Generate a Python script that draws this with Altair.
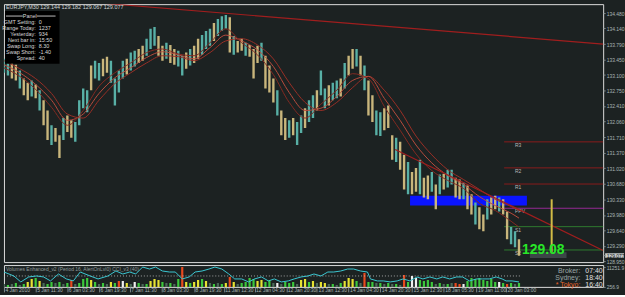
import altair as alt
import pandas as pd

BG = "#1c2222"
FRAME = "#7f8b8b"
AXIS_TXT = "#a9b5b5"
FONT = "Liberation Sans"
W = 604
H_MAIN = 260
H_VOL = 22

# ---------------- data ----------------
bar_idx = list(range(0, 521, 4))
bar_high = [133.46, 133.42, 133.37, 133.33, 133.20, 133.02, 132.93, 132.98, 132.89, 132.76,
            132.54, 132.31, 131.98, 131.92, 131.76, 132.14, 132.20, 132.09, 132.05, 132.54,
            132.80, 132.76, 133.31, 133.42, 133.37, 133.46, 133.51, 133.42, 133.02, 133.20,
            133.42, 133.46, 133.60, 133.64, 133.68, 133.75, 133.91, 134.13, 134.17, 133.97,
            133.75, 133.82, 133.77, 133.68, 133.64, 133.53, 133.60, 133.68, 133.75, 133.91,
            133.99, 134.08, 134.13, 134.26, 134.35, 134.41, 134.44, 134.39, 133.97, 133.86,
            133.91, 133.82, 133.77, 133.68, 133.75, 133.82, 133.53, 133.31, 133.02, 132.76,
            132.31, 132.14, 132.09, 132.14, 132.05, 132.20, 132.36, 132.54, 132.65, 132.76,
            133.20, 132.80, 132.87, 132.93, 132.98, 133.02, 133.37, 133.53, 133.68, 133.68,
            133.53, 133.31, 132.98, 132.65, 132.31, 132.27, 132.36, 132.42, 131.76, 131.70,
            131.61, 131.32, 131.16, 130.94, 131.03, 131.21, 130.81, 130.86, 130.94, 130.66,
            130.88, 130.90, 130.99, 130.99, 130.81, 130.77, 130.70, 130.64, 130.44, 130.26,
            130.15, 129.99, 130.33, 130.37, 130.41, 130.37, 130.33, 130.06, 129.71, 129.62,
            129.44]
bar_low = [133.15, 133.09, 133.02, 132.98, 132.80, 132.65, 132.54, 132.62, 132.58, 132.31,
           131.98, 131.65, 131.54, 131.61, 131.25, 131.65, 131.83, 131.70, 131.61, 131.98,
           132.36, 132.27, 132.76, 133.02, 132.98, 133.07, 133.15, 132.93, 132.42, 132.71,
           133.02, 133.11, 133.20, 133.29, 133.37, 133.42, 133.53, 133.68, 133.75, 133.53,
           133.42, 133.46, 133.37, 133.33, 133.29, 133.09, 133.24, 133.31, 133.37, 133.46,
           133.55, 133.68, 133.75, 133.86, 133.97, 134.08, 134.13, 133.60, 133.55, 133.60,
           133.64, 133.53, 133.51, 133.02, 133.37, 133.42, 132.80, 132.71, 132.49, 132.20,
           131.76, 131.65, 131.70, 131.76, 131.54, 131.81, 131.92, 132.05, 132.14, 132.31,
           132.65, 132.36, 132.42, 132.54, 132.58, 132.62, 132.80, 133.09, 133.24, 133.29,
           133.09, 132.76, 132.20, 132.05, 131.76, 131.74, 131.87, 131.92, 131.21, 131.16,
           130.99, 130.55, 130.44, 130.44, 130.50, 130.44, 130.37, 130.33, 130.50, 130.11,
           130.44, 130.55, 130.59, 130.66, 130.37, 130.33, 130.33, 130.11, 129.99, 129.77,
           129.66, 129.62, 129.88, 129.99, 130.11, 130.06, 129.99, 129.44, 129.33, 129.26,
           129.07]
bar_kind = list("uudduddudu" "dduddudduu" "uuduudduuu" "uduudduuud" "dudduududd"
                "uuuduuudud" "dudddudddu" "dduduuduud" "uuduududdu" "dudduudddu"
                "ddudduddud" "uduudduddu" "dduddudduu" "d")

ma_idx = list(range(0, 513, 16)) + [520]
ma_slow = [133.42, 133.24, 133.02, 132.69, 132.23, 132.14, 132.54, 132.91, 133.15, 133.37,
           133.53, 133.51, 133.42, 133.60, 133.86, 133.91, 133.77, 133.46, 132.93, 132.49,
           132.31, 132.49, 132.82, 133.07, 132.76, 132.31, 131.74, 131.32, 130.99, 130.77,
           130.55, 130.33, 130.17, 130.08]
ma_mid = [133.33, 133.15, 132.89, 132.54, 132.09, 132.23, 132.69, 133.04, 133.26, 133.49,
          133.62, 133.55, 133.46, 133.71, 133.99, 133.86, 133.66, 133.29, 132.71, 132.31,
          132.36, 132.62, 132.98, 133.07, 132.58, 132.09, 131.54, 131.14, 130.86, 130.66,
          130.39, 130.19, 130.02, 129.91]
ma_fast = [133.26, 133.07, 132.78, 132.38, 131.98, 132.31, 132.85, 133.15, 133.37, 133.60,
           133.68, 133.57, 133.53, 133.82, 134.13, 133.82, 133.55, 133.11, 132.49, 132.14,
           132.45, 132.76, 133.13, 133.02, 132.40, 131.87, 131.34, 130.97, 130.75, 130.57,
           130.24, 130.08, 129.84, 129.71]

trend_name = ["T1", "T1", "T2", "T2"]
trend_idx = [0, 605, 395, 605]
trend_price = [134.88, 133.79, 131.44, 129.19]

pivot_name = ["R3", "R2", "R1", "PPV", "S1", "S2"]
pivot_price = [131.61, 131.03, 130.67, 130.13, 129.72, 129.20]
pivot_span = [505, 605]
pivot_label_idx = 516

zone_idx = [410, 528]
zone_price = [130.41, 130.19]

signal_idx = 553
signal_price = [130.33, 129.04]

box_idx = [531, 568]
box_price = [129.15, 129.02]

last_price = 129.077
big_label = "129.08"
big_label_idx = 566
big_label_price = 129.12

price_ticks = [134.48, 134.14, 133.79, 133.45, 133.10, 132.75, 132.41, 132.06, 131.71,
               131.37, 131.02, 130.68, 130.33, 129.98, 129.64, 129.29, 128.95, 129.077]

title_text = "EURJPY,M30  129.144 129.182 129.067 129.077"
panel_labels = ["GMT Setting:", "Range Today:", "Yesterday:", "Next bar in:",
                "Swap Long:", "Swap Short:", "Spread:"]
panel_values = ["0", "1237", "934", "15:50", "8.30", "-1.40", "40"]

time_idx = [0, 32, 64, 96, 127, 159, 192, 222, 253, 285, 316, 348, 380, 412, 444, 477, 507]
time_lbl = ["4 Jan 2010", "5 Jan 11:30", "6 Jan 03:30", "6 Jan 19:30", "7 Jan 11:30",
            "8 Jan 03:30", "8 Jan 19:30", "11 Jan 12:30", "12 Jan 04:30", "12 Jan 20:30",
            "13 Jan 12:30", "14 Jan 04:30", "14 Jan 20:30", "15 Jan 12:30", "18 Jan 05:30",
            "19 Jan 11:00", "20 Jan 03:00"]

vol_idx = list(range(0, 521, 4))
vol_val = [1910, 1360, 1910, 2460, 1360, 1910, 3010, 4665, 5215, 3560,
           2460, 1910, 3010, 2460, 3010, 1910, 2460, 4110, 1910, 2460,
           4665, 5215, 4110, 3010, 1910, 2460, 1910, 3010, 2460, 3560,
           3560, 2460, 1910, 3010, 2460, 1910, 1910, 3560, 4665, 4110,
           3010, 2460, 2460, 1910, 4665, 11280, 3010, 2460, 3010, 4110,
           4665, 3560, 2460, 1910, 2460, 1910, 2460, 5770, 3010, 1910,
           2460, 3010, 5215, 4665, 3560, 4110, 3010, 4110, 2460, 2460,
           1910, 3010, 2460, 3010, 1910, 4110, 4665, 3010, 3560, 2460,
           3010, 2460, 1910, 1910, 1360, 2460, 3560, 5215, 4665, 3560,
           2460, 7970, 3010, 3010, 2460, 2460, 1910, 2460, 1910, 1910,
           1360, 6870, 3010, 6320, 5215, 4110, 3560, 4110, 3010, 1910,
           2460, 1910, 1910, 2460, 2460, 1910, 1910, 3560, 5215, 4665,
           5215, 4110, 3560, 4665, 3010, 3010, 2460, 1910, 2460, 1910,
           2460]
vol_kind = list("dgdgdgyygy" "dggdgdgrdg" "ggygdgdygr" "wydwgdgyyy" "gdgdgrygyy"
                "gydgdgyryd" "ggggyyggdw" "dgggdyygyd" "yydgdgyyyg" "drggdgdgdg"
                "drgwwggggd" "gdgdrrwggg" "gggggwgrgd" "g")
vol_top = 12377
vol_bottom = 256.9

cci_idx = [0, 10, 17, 25, 33, 40, 47, 55, 63, 70, 77, 87, 95, 105, 113, 120, 127, 133, 140, 147,
           153, 160, 167, 173, 180, 187, 193, 200, 207, 213, 220, 227, 233, 240, 247, 253, 260, 267,
           273, 280, 287, 293, 300, 307, 313, 320, 327, 333, 340, 347, 353, 360, 367, 370, 377, 383,
           390, 397, 403, 410, 417, 423, 430, 437, 443, 450, 457, 463, 470, 477, 483, 490, 497, 503,
           507, 513, 520]
cci_val = [100, 0, -150, -25, 0, -25, -125, 50, -75, -125, 100, 0, -75, 0, 125, 50, 100, 50, 225, 175,
           225, 125, 100, 100, -75, -25, 100, 125, 175, 225, 175, 50, -75, -75, -150, -75, -25, -125,
           -75, -150, -125, -75, -25, 0, 50, 0, 100, 100, 125, 175, 175, 125, 100, -75, -125, -125,
           -150, -125, -75, -125, -25, -75, -25, -75, -25, -75, -25, -25, -125, -75, -75, -75, -25, -75,
           -125, -125, -150]
cci_span = [0, 522]

# ---------------- styles ----------------
BAR_COL = {"u": "#58b0a6", "d": "#c9b67c"}
MA_COL = {"slow": "#9a3026", "mid": "#b84c3e", "fast": "#842a22"}
PIV_COL = {"R3": "#8a1c1c", "R2": "#8a1c1c", "R1": "#8a1c1c", "PPV": "#962a96",
           "S1": "#2f7a2f", "S2": "#2f7a2f"}
VOL_COL = {"g": "#3cc83c", "y": "#e6e232", "r": "#e84a1e", "w": "#f0f0f0", "d": "#4b6a58"}

xs = alt.Scale(domain=[0, 605], nice=False, zero=False)
ys = alt.Scale(domain=[128.93, 134.68], nice=False, zero=False)

y_axis = alt.Axis(orient="right", values=price_ticks, format=".3f", labelFontSize=5,
                  labelFont=FONT,
                  labelColor={"condition": {"test": "abs(datum.value - 129.077) < 0.0005",
                                            "value": "#111111"}, "value": AXIS_TXT},
                  tickSize=2, tickColor=FRAME, labelPadding=1, domain=False, grid=False,
                  title=None, labelOverlap=False, zindex=1)

def X(field):
    return alt.X(field, type="quantitative", scale=xs, axis=None)

def Y(field):
    return alt.Y(field, type="quantitative", scale=ys, axis=y_axis)

# ---------------- main panel ----------------
bars_df = pd.DataFrame({"idx": bar_idx, "high": bar_high, "low": bar_low, "kind": bar_kind})
bars_df["col"] = bars_df["kind"].map(BAR_COL)

ma_df = pd.concat([
    pd.DataFrame({"idx": ma_idx, "price": ma_slow, "ma": "slow"}),
    pd.DataFrame({"idx": ma_idx, "price": ma_mid, "ma": "mid"}),
    pd.DataFrame({"idx": ma_idx, "price": ma_fast, "ma": "fast"}),
])
ma_df["col"] = ma_df["ma"].map(MA_COL)

trend_df = pd.DataFrame({"name": trend_name, "idx": trend_idx, "price": trend_price})
piv_df = pd.DataFrame({"name": pivot_name, "price": pivot_price,
                       "x0": pivot_span[0], "x1": pivot_span[1], "lx": pivot_label_idx})
piv_df["col"] = piv_df["name"].map(PIV_COL)
zone_df = pd.DataFrame({"x0": [zone_idx[0]], "x1": [zone_idx[1]],
                        "p0": [zone_price[0]], "p1": [zone_price[1]]})
sig_df = pd.DataFrame({"idx": [signal_idx], "p0": [signal_price[0]], "p1": [signal_price[1]]})
box_df = pd.DataFrame({"x0": [box_idx[0]], "x1": [box_idx[1]],
                       "p0": [box_price[0]], "p1": [box_price[1]]})
big_df = pd.DataFrame({"idx": [big_label_idx], "price": [big_label_price], "t": [big_label]})
last_df = pd.DataFrame({"p0": [last_price + 0.05], "p1": [last_price - 0.05]})

zone = alt.Chart(zone_df).mark_rect(color="#0a14ff").encode(x=X("x0"), x2="x1", y=Y("p0"), y2="p1")
pivots = alt.Chart(piv_df).mark_rule(strokeWidth=1).encode(
    x=X("x0"), x2="x1", y=Y("price"), color=alt.Color("col:N", scale=None))
piv_lbl = alt.Chart(piv_df).mark_text(align="left", baseline="top", dy=1, fontSize=5,
                                      color="#b8b8b8", font=FONT).encode(
    x=X("lx"), y=Y("price"), text="name:N")
bars = alt.Chart(bars_df).mark_rule(strokeWidth=2.4, clip=True).encode(
    x=X("idx"), y=Y("low"), y2="high", color=alt.Color("col:N", scale=None))
mas = alt.Chart(ma_df).mark_line(strokeWidth=1, interpolate="monotone", clip=True).encode(
    x=X("idx"), y=Y("price"), detail="ma:N", color=alt.Color("col:N", scale=None))
trends = alt.Chart(trend_df).mark_line(color="#a01e1e", strokeWidth=1.2, clip=True).encode(
    x=X("idx"), y=Y("price"), detail="name:N")
signal = alt.Chart(sig_df).mark_rule(color="#d2bc46", strokeWidth=2).encode(
    x=X("idx"), y=Y("p0"), y2="p1")
gbox = alt.Chart(box_df).mark_rect(color="#3c4547", clip=True).encode(
    x=X("x0"), x2="x1", y=Y("p0"), y2="p1")
big = alt.Chart(big_df).mark_text(align="right", baseline="alphabetic", fontSize=14,
                                  fontWeight="bold", color="#28e628", font=FONT).encode(
    x=X("idx"), y=Y("price"), text="t:N")
last_box = alt.Chart(last_df).mark_rect(color="#c8cdcd", clip=False).encode(
    x=alt.value(W + 2), x2=alt.value(W + 21), y=Y("p0"), y2="p1")

one = pd.DataFrame({"a": [0]})
panel_bg = alt.Chart(one).mark_rect(color="#000000").encode(
    x=alt.value(1), x2=alt.value(56), y=alt.value(7), y2=alt.value(60))
panel_head = alt.Chart(one).mark_text(fontSize=5.5, color="#d8d8d8", font=FONT).encode(
    x=alt.value(26), y=alt.value(12), text=alt.value("Panel"))
panel_l1 = alt.Chart(one).mark_rule(color="#bcbcbc").encode(
    x=alt.value(2), x2=alt.value(19), y=alt.value(12))
panel_l2 = alt.Chart(one).mark_rule(color="#bcbcbc").encode(
    x=alt.value(33), x2=alt.value(52), y=alt.value(12))
panel_lab = alt.Chart(one).mark_text(align="right", baseline="top", fontSize=5.5, lineHeight=6,
                                     lineBreak="\n", color="#d8d8d8", font=FONT).encode(
    x=alt.value(32), y=alt.value(16), text=alt.value("\n".join(panel_labels)))
panel_val = alt.Chart(one).mark_text(align="left", baseline="top", fontSize=5.5, lineHeight=6,
                                     lineBreak="\n", color="#d8d8d8", font=FONT).encode(
    x=alt.value(35), y=alt.value(16), text=alt.value("\n".join(panel_values)))
title = alt.Chart(one).mark_text(align="left", baseline="middle", fontSize=5.5,
                                 color="#d0d6d6", font=FONT).encode(
    x=alt.value(2), y=alt.value(3), text=alt.value(title_text))

main = alt.layer(zone, pivots, piv_lbl, bars, mas, trends, signal, gbox, big, last_box,
                 panel_bg, panel_head, panel_l1, panel_l2, panel_lab, panel_val, title
                 ).properties(width=W, height=H_MAIN)

# ---------------- volume / CCI panel ----------------
label_expr = ("[" + ",".join("'" + s + "'" for s in time_lbl) + "][indexof(["
              + ",".join(str(v) for v in time_idx) + "], datum.value)]")
x_axis = alt.Axis(values=time_idx, labelExpr=label_expr, labelAlign="left", labelOffset=1,
                  labelFontSize=5, labelFont=FONT, labelColor=AXIS_TXT, tickSize=5,
                  tickColor=FRAME, labelPadding=-4, domain=False, grid=False, title=None,
                  labelFlush=False, labelOverlap=False, labelBaseline="top")
vol_axis = alt.Axis(orient="right", values=[11251.9, 256.9], format=".1f", labelFontSize=5,
                    labelFont=FONT, labelColor=AXIS_TXT, tickSize=2, tickColor=FRAME,
                    labelPadding=1, domain=False, grid=False, title=None, labelOverlap=False)

def XV(field):
    return alt.X(field, type="quantitative", scale=xs, axis=x_axis)

cci_scale = alt.Scale(domain=[-275, 275], nice=False, zero=False)

vol_df = pd.DataFrame({"idx": vol_idx, "vol": vol_val, "kind": vol_kind})
vol_df["col"] = vol_df["kind"].map(VOL_COL)
cci_df = pd.DataFrame({"idx": cci_idx, "cci": cci_val})
zero_df = pd.DataFrame({"x0": [cci_span[0]], "x1": [cci_span[1]], "lvl": [0]})

vtitle = alt.Chart(one).mark_text(align="left", baseline="middle", fontSize=5,
                                  color="#8f9a9a", font=FONT).encode(
    x=alt.value(2), y=alt.value(4),
    text=alt.value("Volumes Enhanced_v2 (Period 16, AlertOnLvl0)    CCI_v3 (40)"))
vbars = alt.Chart(vol_df).mark_rule(strokeWidth=2.2, clip=True).encode(
    x=XV("idx"),
    y=alt.Y("vol:Q", scale=alt.Scale(domain=[vol_bottom, vol_top], nice=False, zero=False),
            axis=vol_axis),
    y2=alt.value(H_VOL), color=alt.Color("col:N", scale=None))
zero_rule = alt.Chart(zero_df).mark_rule(color="#c8c8c8", strokeDash=[1, 2], strokeWidth=0.8).encode(
    x=XV("x0"), x2="x1", y=alt.Y("lvl:Q", scale=cci_scale, axis=None))
cci_line = alt.Chart(cci_df).mark_line(color="#3cc8d2", strokeWidth=1, clip=True).encode(
    x=XV("idx"), y=alt.Y("cci:Q", scale=cci_scale, axis=None))
clk_lab = alt.Chart(one).mark_text(align="right", baseline="top", fontSize=7, lineHeight=7,
                                   lineBreak="\n", color="#9aa6a6", font=FONT).encode(
    x=alt.value(581), y=alt.value(2), text=alt.value("Broker:\nSydney:"))
clk_tok = alt.Chart(one).mark_text(align="right", baseline="top", fontSize=7,
                                   color="#e8642c", font=FONT).encode(
    x=alt.value(581), y=alt.value(16), text=alt.value("* Tokyo:"))
clk_val = alt.Chart(one).mark_text(align="left", baseline="top", fontSize=7, lineHeight=7,
                                   lineBreak="\n", color="#e0e0e0", font=FONT).encode(
    x=alt.value(586), y=alt.value(2), text=alt.value("07:40\n18:40\n16:40"))

vol = alt.layer(vtitle, vbars, zero_rule, cci_line, clk_lab, clk_tok, clk_val
                ).resolve_scale(y="independent").properties(width=W, height=H_VOL)

chart = alt.vconcat(main, vol, spacing=3, bounds="flush").properties(
    padding={"left": 1, "top": 2, "right": 0, "bottom": 0},
    background=BG,
).configure_view(stroke=FRAME, strokeWidth=1, fill=BG).configure(font=FONT)

chart.save("out.html", embed_options={"renderer": "svg", "actions": False})
